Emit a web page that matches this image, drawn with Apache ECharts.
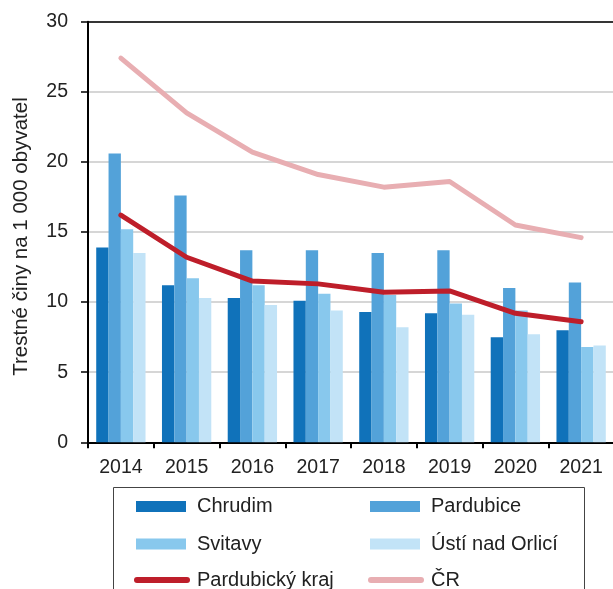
<!DOCTYPE html>
<html>
<head>
<meta charset="utf-8">
<script src="https://cdn.jsdelivr.net/npm/echarts@6/dist/echarts.min.js"></script>
<style>
  html, body { margin: 0; padding: 0; background: #fff; }
  #chart { width: 613px; height: 589px; }
</style>
</head>
<body>
<div id="chart"></div>
<script>
// Trestné činy na 1 000 obyvatel, okresy Pardubického kraje, 2014–2021
const years = ['2014', '2015', '2016', '2017', '2018', '2019', '2020', '2021'];
const chrudim   = [13.9, 11.2, 10.3, 10.1, 9.3, 9.2, 7.5, 8.0];
const pardubice = [20.6, 17.6, 13.7, 13.7, 13.5, 13.7, 11.0, 11.4];
const svitavy   = [15.2, 11.7, 11.2, 10.6, 10.5, 9.9, 9.4, 6.8];
const ustiNO    = [13.5, 10.3, 9.8, 9.4, 8.2, 9.1, 7.7, 6.9];
const pardKraj  = [16.2, 13.2, 11.5, 11.3, 10.7, 10.8, 9.2, 8.6];
const cr        = [27.4, 23.5, 20.7, 19.1, 18.2, 18.6, 15.5, 14.6];
const yTicks = [0, 5, 10, 15, 20, 25, 30];

const FONT = '"Liberation Sans", Arial, sans-serif';
const TXT = '#222';

const chart = echarts.init(document.getElementById('chart'), null, { renderer: 'canvas' });

function barSeries(name, data, color) {
  return {
    name, type: 'bar', data,
    barGap: '0%', barCategoryGap: '25%',
    itemStyle: { color },
    emphasis: { disabled: true }
  };
}
function lineSeries(name, data, color) {
  return {
    name, type: 'line', data,
    symbol: 'none', smooth: false,
    lineStyle: { color, width: 5, cap: 'round', join: 'round' },
    itemStyle: { color },
    emphasis: { disabled: true }
  };
}

// one legend block per entry, laid out as a 2-column grid
function legendEntry(name, left, top, isLine) {
  return {
    left: isLine ? left - 2 : left,
    top,
    padding: 0,
    itemWidth: 50,
    itemHeight: 11,
    selectedMode: false,
    textStyle: { fontFamily: FONT, fontSize: 20, color: TXT, padding: [0, 0, 0, isLine ? 5 : 6] },
    lineStyle: { width: 6, cap: 'round' },
    data: [isLine ? { name, itemStyle: { opacity: 0 } } : { name, icon: 'rect' }]
  };
}
const colLeft = [136, 370];
const rowTop = [496.5, 534, 570];

chart.setOption({
  animation: false,
  backgroundColor: '#fff',
  grid: { left: 88, top: 21.7, width: 526, bottom: 146.7, containLabel: false, outerBoundsMode: 'none' },
  legend: [
    legendEntry('Chrudim', colLeft[0], rowTop[0], false),
    legendEntry('Pardubice', colLeft[1], rowTop[0], false),
    legendEntry('Svitavy', colLeft[0], rowTop[1], false),
    legendEntry('Ústí nad Orlicí', colLeft[1], rowTop[1], false),
    legendEntry('Pardubický kraj', colLeft[0], rowTop[2], true),
    legendEntry('ČR', colLeft[1], rowTop[2], true)
  ],
  xAxis: [
    {
      type: 'category',
      data: years,
      boundaryGap: true,
      axisLine: { lineStyle: { color: '#000', width: 2 } },
      axisTick: { show: true, length: 6, alignWithLabel: false, lineStyle: { color: '#000', width: 2 } },
      axisLabel: { fontFamily: FONT, fontSize: 19.5, color: TXT, margin: 15 },
      splitLine: { show: false }
    },
    {
      type: 'category',
      data: years,
      position: 'top',
      axisLine: { lineStyle: { color: '#000', width: 1.5 } },
      axisTick: { show: false },
      axisLabel: { show: false },
      splitLine: { show: false }
    }
  ],
  yAxis: {
    type: 'value',
    min: 0, max: 30, interval: 5,
    name: 'Trestné činy na 1 000 obyvatel',
    nameLocation: 'middle',
    nameGap: 56,
    nameTextStyle: { fontFamily: FONT, fontSize: 20.5, color: TXT, padding: [0, 9, 0, 0] },
    axisLine: { show: true, lineStyle: { color: '#000', width: 2 } },
    axisTick: { show: true, length: 7, lineStyle: { color: '#000', width: 1.5 } },
    axisLabel: {
      fontFamily: FONT, fontSize: 19.5, color: TXT, margin: 20,
      formatter: v => (yTicks.includes(v) ? String(v) : '')
    },
    splitLine: { show: true, lineStyle: { color: '#c8c8c8', width: 1.5 } }
  },
  graphic: [
    {
      type: 'rect',
      shape: { x: 113.5, y: 487.5, width: 471, height: 110 },
      style: { fill: 'none', stroke: '#444', lineWidth: 1 },
      silent: true,
      z: 10
    }
  ],
  series: [
    barSeries('Chrudim', chrudim, '#1072ba'),
    barSeries('Pardubice', pardubice, '#53a2d9'),
    barSeries('Svitavy', svitavy, '#88c8ed'),
    barSeries('Ústí nad Orlicí', ustiNO, '#c2e3f7'),
    lineSeries('Pardubický kraj', pardKraj, '#be1e2a'),
    lineSeries('ČR', cr, '#e8aeb2')
  ]
});
</script>
</body>
</html>
